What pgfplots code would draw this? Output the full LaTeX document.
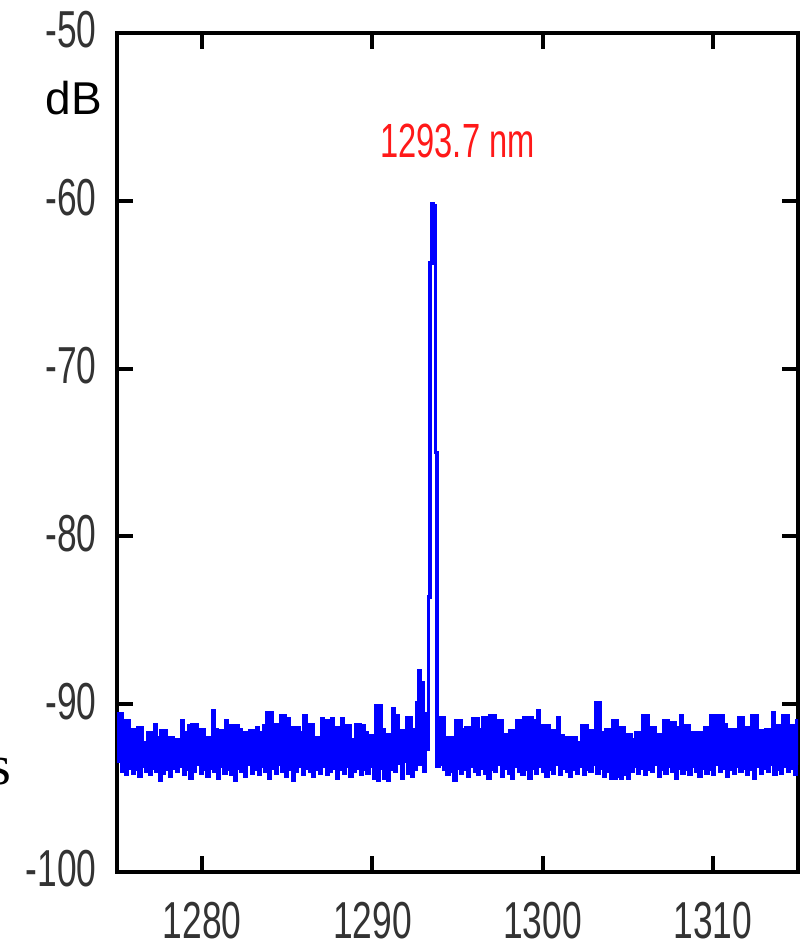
\documentclass[border=0pt]{standalone}
\usepackage{pgfplots}
\pgfplotsset{compat=1.18}
\usepackage{pgfplotstable}
\usepackage{fontspec}
\setmainfont{Liberation Sans}
\newfontfamily\narrow[FakeStretch=0.68]{Liberation Sans}
\newfontfamily\serifs{Liberation Serif}

\pgfplotstableread{
x y
1275.0 -90.6
1275.1 -93.4
1275.2 -90.6
1275.3 -94.0
1275.4 -91.0
1275.5 -94.2
1275.6 -91.0
1275.7 -93.8
1275.8 -91.5
1275.9 -94.1
1276.0 -91.5
1276.1 -93.9
1276.2 -91.4
1276.3 -94.3
1276.4 -91.4
1276.5 -93.7
1276.6 -92.3
1276.7 -94.0
1276.8 -91.7
1276.9 -94.2
1277.0 -91.7
1277.1 -93.8
1277.2 -91.2
1277.3 -94.0
1277.4 -92.0
1277.5 -94.5
1277.6 -91.6
1277.7 -94.1
1277.8 -91.6
1277.9 -93.9
1278.0 -92.0
1278.1 -94.3
1278.2 -92.0
1278.3 -93.8
1278.4 -92.1
1278.5 -94.0
1278.6 -92.1
1278.7 -93.7
1278.8 -91.0
1278.9 -94.2
1279.0 -91.7
1279.1 -93.9
1279.2 -91.3
1279.3 -94.4
1279.4 -91.2
1279.5 -94.0
1279.6 -91.2
1279.7 -93.6
1279.8 -91.5
1279.9 -94.1
1280.0 -91.5
1280.1 -93.9
1280.2 -92.0
1280.3 -94.3
1280.4 -92.0
1280.5 -93.8
1280.6 -90.4
1280.7 -94.0
1280.8 -91.5
1280.9 -94.4
1281.0 -91.6
1281.1 -93.7
1281.2 -91.6
1281.3 -94.1
1281.4 -91.0
1281.5 -93.9
1281.6 -91.3
1281.7 -94.2
1281.8 -91.3
1281.9 -94.5
1282.0 -91.3
1282.1 -93.8
1282.2 -91.5
1282.3 -94.0
1282.4 -91.7
1282.5 -94.3
1282.6 -91.7
1282.7 -93.6
1282.8 -91.6
1282.9 -94.1
1283.0 -91.6
1283.1 -93.9
1283.2 -91.4
1283.3 -94.2
1283.4 -91.7
1283.5 -93.7
1283.6 -91.3
1283.7 -94.0
1283.8 -90.5
1283.9 -94.4
1284.0 -90.5
1284.1 -93.8
1284.2 -91.2
1284.3 -94.1
1284.4 -91.2
1284.5 -93.6
1284.6 -90.7
1284.7 -94.0
1284.8 -90.7
1284.9 -94.3
1285.0 -90.9
1285.1 -93.9
1285.2 -91.4
1285.3 -94.5
1285.4 -91.4
1285.5 -94.0
1285.6 -91.4
1285.7 -93.7
1285.8 -91.7
1285.9 -94.2
1286.0 -90.7
1286.1 -93.8
1286.2 -91.2
1286.3 -94.0
1286.4 -91.2
1286.5 -94.3
1286.6 -92.0
1286.7 -93.9
1286.8 -92.0
1286.9 -94.1
1287.0 -90.9
1287.1 -93.7
1287.2 -91.0
1287.3 -94.2
1287.4 -91.0
1287.5 -94.0
1287.6 -90.9
1287.7 -93.8
1287.8 -91.4
1287.9 -94.4
1288.0 -91.4
1288.1 -93.9
1288.2 -90.9
1288.3 -94.1
1288.4 -91.3
1288.5 -93.7
1288.6 -91.3
1288.7 -94.3
1288.8 -92.1
1288.9 -94.0
1289.0 -91.2
1289.1 -93.8
1289.2 -91.2
1289.3 -94.2
1289.4 -91.3
1289.5 -93.9
1289.6 -91.7
1289.7 -94.1
1289.8 -91.9
1289.9 -93.7
1290.0 -91.9
1290.1 -94.4
1290.2 -90.1
1290.3 -94.5
1290.4 -90.1
1290.5 -93.8
1290.6 -91.5
1290.7 -94.4
1290.8 -91.8
1290.9 -94.5
1291.0 -91.8
1291.1 -93.9
1291.2 -90.3
1291.3 -94.0
1291.4 -90.7
1291.5 -93.5
1291.6 -91.6
1291.7 -94.4
1291.8 -91.6
1291.9 -93.4
1292.0 -90.8
1292.1 -94.1
1292.2 -90.8
1292.3 -94.3
1292.4 -91.5
1292.5 -93.9
1292.6 -89.9
1292.7 -88.0
1292.8 -93.6
1292.9 -88.7
1293.0 -94.0
1293.1 -90.6
1293.2 -92.7
1293.3 -83.6
1293.4 -63.7
1293.5 -60.2
1293.6 -60.3
1293.7 -75.0
1293.8 -93.7
1293.9 -90.8
1294.0 -93.6
1294.1 -90.8
1294.2 -93.9
1294.3 -92.0
1294.4 -94.2
1294.5 -92.0
1294.6 -94.0
1294.7 -92.0
1294.8 -94.5
1294.9 -91.0
1295.0 -93.8
1295.1 -91.0
1295.2 -94.1
1295.3 -91.5
1295.4 -93.9
1295.5 -91.4
1295.6 -94.3
1295.7 -91.4
1295.8 -93.7
1295.9 -90.9
1296.0 -94.0
1296.1 -90.9
1296.2 -94.2
1296.3 -91.5
1296.4 -93.8
1296.5 -90.8
1296.6 -94.1
1296.7 -90.8
1296.8 -94.4
1296.9 -90.7
1297.0 -93.9
1297.1 -90.7
1297.2 -94.0
1297.3 -91.0
1297.4 -93.6
1297.5 -91.0
1297.6 -94.3
1297.7 -91.8
1297.8 -93.8
1297.9 -91.8
1298.0 -94.1
1298.1 -91.6
1298.2 -94.4
1298.3 -91.6
1298.4 -93.7
1298.5 -91.0
1298.6 -94.0
1298.7 -91.0
1298.8 -94.2
1298.9 -90.8
1299.0 -93.9
1299.1 -90.8
1299.2 -94.4
1299.3 -90.8
1299.4 -93.8
1299.5 -91.0
1299.6 -94.1
1299.7 -90.4
1299.8 -93.7
1299.9 -91.3
1300.0 -94.0
1300.1 -91.3
1300.2 -94.3
1300.3 -91.3
1300.4 -93.9
1300.5 -91.6
1300.6 -94.1
1300.7 -91.6
1300.8 -93.6
1300.9 -90.8
1301.0 -94.2
1301.1 -91.9
1301.2 -93.8
1301.3 -92.0
1301.4 -94.0
1301.5 -92.0
1301.6 -94.3
1301.7 -92.0
1301.8 -93.9
1301.9 -92.0
1302.0 -94.1
1302.1 -92.3
1302.2 -93.7
1302.3 -91.3
1302.4 -94.2
1302.5 -91.3
1302.6 -93.9
1302.7 -91.6
1302.8 -94.0
1302.9 -91.6
1303.0 -93.6
1303.1 -89.9
1303.2 -94.1
1303.3 -89.9
1303.4 -93.8
1303.5 -91.7
1303.6 -94.3
1303.7 -91.5
1303.8 -94.0
1303.9 -91.5
1304.0 -94.4
1304.1 -91.0
1304.2 -94.4
1304.3 -91.0
1304.4 -94.3
1304.5 -91.4
1304.6 -94.4
1304.7 -91.4
1304.8 -94.2
1304.9 -91.8
1305.0 -94.4
1305.1 -91.8
1305.2 -94.0
1305.3 -92.1
1305.4 -93.7
1305.5 -91.7
1305.6 -94.1
1305.7 -91.7
1305.8 -93.8
1305.9 -90.7
1306.0 -94.2
1306.1 -90.7
1306.2 -93.9
1306.3 -91.4
1306.4 -94.0
1306.5 -91.4
1306.6 -93.6
1306.7 -91.8
1306.8 -94.3
1306.9 -91.8
1307.0 -93.9
1307.1 -91.0
1307.2 -94.1
1307.3 -91.0
1307.4 -93.7
1307.5 -91.1
1307.6 -94.0
1307.7 -91.1
1307.8 -94.4
1307.9 -91.4
1308.0 -93.8
1308.1 -90.7
1308.2 -94.1
1308.3 -91.3
1308.4 -93.9
1308.5 -91.3
1308.6 -94.2
1308.7 -91.7
1308.8 -93.7
1308.9 -91.7
1309.0 -94.0
1309.1 -91.7
1309.2 -94.3
1309.3 -91.7
1309.4 -93.8
1309.5 -91.4
1309.6 -94.1
1309.7 -91.4
1309.8 -93.9
1309.9 -90.7
1310.0 -94.2
1310.1 -90.7
1310.2 -93.6
1310.3 -90.7
1310.4 -94.0
1310.5 -90.7
1310.6 -93.8
1310.7 -91.2
1310.8 -94.3
1310.9 -91.5
1311.0 -93.9
1311.1 -91.5
1311.2 -94.1
1311.3 -91.5
1311.4 -93.7
1311.5 -90.8
1311.6 -94.0
1311.7 -90.8
1311.8 -93.8
1311.9 -91.4
1312.0 -94.2
1312.1 -91.4
1312.2 -93.9
1312.3 -90.7
1312.4 -94.4
1312.5 -90.7
1312.6 -93.7
1312.7 -91.6
1312.8 -94.1
1312.9 -91.6
1313.0 -93.8
1313.1 -91.5
1313.2 -94.0
1313.3 -91.5
1313.4 -93.6
1313.5 -90.5
1313.6 -94.2
1313.7 -91.3
1313.8 -93.9
1313.9 -91.3
1314.0 -94.1
1314.1 -90.7
1314.2 -93.7
1314.3 -90.7
1314.4 -94.0
1314.5 -91.3
1314.6 -93.8
1314.7 -91.3
1314.8 -94.2
1314.9 -91.0
1315.0 -93.6
}\spectrum

\begin{document}
\begin{tikzpicture}
\useasboundingbox (-58.5pt,-39.5pt) rectangle (342pt,436pt);
\begin{axis}[
  at={(0,0)}, anchor=south west,
  scale only axis,
  width=340.5pt, height=419.5pt,
  xmin=1275, xmax=1315,
  ymin=-100, ymax=-50,
  xtick={1280,1290,1300,1310},
  xticklabels={1280,1290,1300,1310},
  ytick={-100,-90,-80,-70,-60,-50},
  yticklabels={-100,-90,-80,-70,-60,-50},
  tick align=inside,
  major tick length=8pt,
  tick style={line width=2pt, black},
  axis line style={line width=2pt, black},
  yticklabel style={font=\narrow\fontsize{26}{30}\selectfont, text=black!80, inner sep=0pt, anchor=east, xshift=-10pt, yshift=1.5pt},
  xticklabel style={font=\narrow\fontsize{26}{30}\selectfont, text=black!80, inner sep=0pt, anchor=north, yshift=-15pt},
  clip mode=individual,
]
\addplot[const plot, blue, line width=1.8pt, line join=miter] table[x=x, y=y] {\spectrum};
\node[anchor=base, text=red!90, font=\narrow\fontsize{24}{28}\selectfont, inner sep=0pt] at (axis cs:1295.0,-57.4) {1293.7 nm};
\node[anchor=base, font=\fontsize{23}{27}\selectfont, inner sep=0pt] at (axis cs:1272.48,-54.88) {dB};
\node[anchor=base east, font=\serifs\fontsize{28}{32}\selectfont, inner sep=0pt] at (axis cs:1268.8,-94.76) {s};
\end{axis}
\end{tikzpicture}
\end{document}
